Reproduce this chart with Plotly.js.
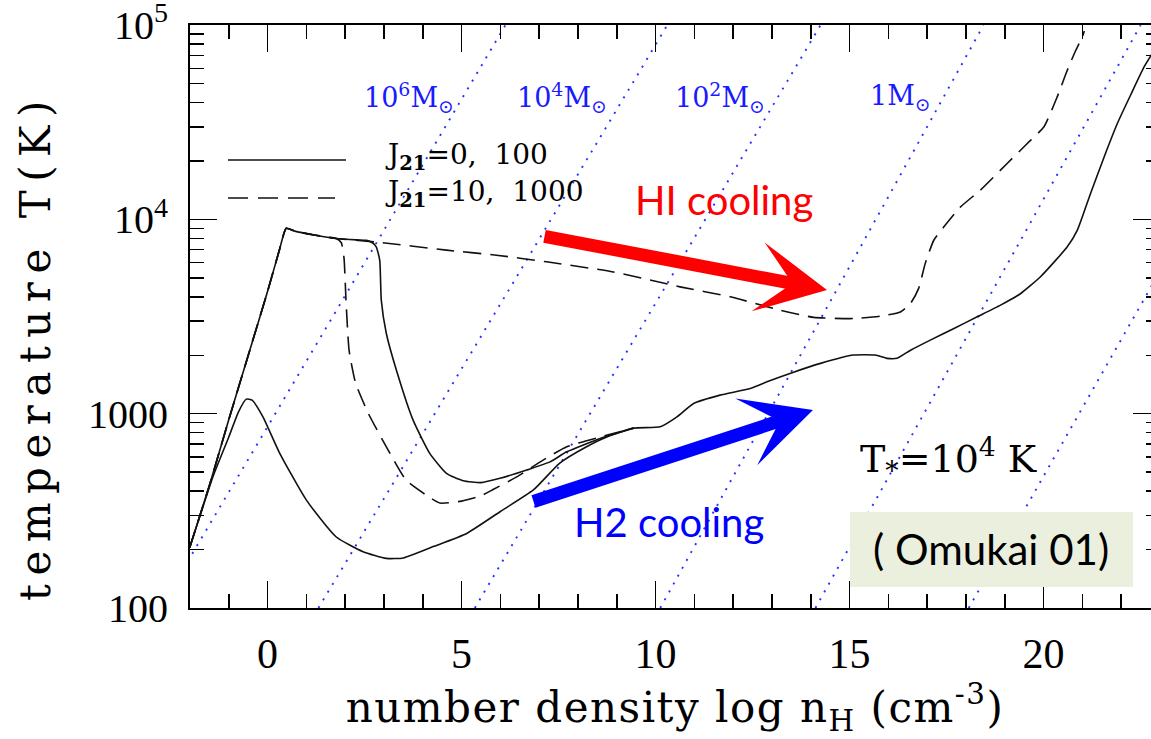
<!DOCTYPE html>
<html>
<head>
<meta charset="utf-8">
<script src="https://cdn.plot.ly/plotly-3.0.1.min.js"></script>
<style>
  html, body { margin: 0; padding: 0; overflow: hidden; background: #fff; }
  #chart { width: 1160px; height: 739px; }
</style>
</head>
<body>
<div id="chart"></div>
<script>
// ---------- data ----------
// Jeans-mass (constant M) dotted lines: x where T = 100 K and x where T = 1e5 K
const massLineX100 = [-2.77, 1.31, 5.34, 10.12, 14.12, 18.07];
const massLineX1e5 = [6.13, 10.30, 14.25, 18.45, 22.50, 26.60];
const massLineT = [100, 100000];
const massLabels = ['10<sup>6</sup>M<sub>⊙</sub>', '10<sup>4</sup>M<sub>⊙</sub>', '10<sup>2</sup>M<sub>⊙</sub>', '1M<sub>⊙</sub>'];
const massLabelX = [3.64, 7.58, 11.66, 16.30];

// J21 = 0 (solid)
const j0_x = [-2.01,-1.75,-1.4,-1.0,-0.75,-0.55,-0.4,-0.12,0.31,1.0,1.77,2.46,3.06,3.5,4.27,5.13,5.99,6.85,7.53,8.22,8.74,9.43,10.12,10.55,10.98,11.66,12.44,12.87,13.5,14.25,15.1,15.66,15.96,16.22,16.57,17.08,17.69,18.29,18.89,19.41,19.92,20.61,20.87,21.21,21.56,21.9,22.26,22.59,22.85,23.0];
const j0_T = [204,295,479,759,1023,1189,1175,964,627,359,232,195,180,181,207,242,313,405,557,676,759,843,857,964,1130,1247,1349,1459,1622,1816,2004,2004,1928,1928,2123,2393,2748,3155,3622,4159,5070,7228,8810,13614,20989,31189,44463,60954,74131,83176];

// J21 = 100 (solid)
const j100_x = [-2.01,-1.5,-1.0,-0.5,0.0,0.3,0.48,0.7,1.2,1.77,2.3,2.55,2.7,2.8,2.89,2.93,3.06,3.32,3.75,4.18,4.61,5.04,5.5,5.99,6.68,7.28,7.71,8.57,9.0,9.43];
const j100_T = [204,427,933,1995,4266,6918,9016,8710,8318,7980,7852,7816,7586,7228,6166,3846,2588,1675,927,625,493,452,442,465,513,565,637,746,794,843];

// J21 = 10 (dashed)
const j10_x = [-2.01,-1.5,-1.0,-0.5,0.0,0.3,0.48,0.7,1.2,1.77,1.9,1.97,2.02,2.1,2.27,2.6,3.06,3.57,4.09,4.44,5.0,5.47,5.81,6.42,7.1,7.71,8.57,9.43];
const j10_T = [204,427,933,1995,4266,6918,9016,8710,8318,7980,7586,6310,3846,2123,1432,1000,676,455,381,347,355,376,407,473,577,676,759,843];

// J21 = 1000 (dashed)
const j1000_x = [-2.01,-1.5,-1.0,-0.5,0.0,0.3,0.48,0.7,1.2,1.77,2.89,4.61,5.9,7.19,8.91,10.63,11.92,13.21,14.07,15.1,15.79,16.31,16.57,16.78,16.95,17.17,17.43,17.86,18.37,19.06,19.58,20.01,20.35,20.61,20.83,21.0,21.05];
const j1000_T = [204,427,933,1995,4266,6918,9016,8710,8318,7980,7621,6950,6546,6053,5370,4498,4000,3412,3133,3090,3177,3342,3698,4416,5943,7816,9162,11614,14158,19409,24604,29992,42756,58614,74302,87096,93325];

const legendLabels = ['J<sub><b>21</b></sub>=0,  100', 'J<sub><b>21</b></sub>=10,  1000'];

// ---------- traces ----------
const traces = [];
for (let i = 0; i < massLineX100.length; i++) {
  traces.push({
    x: [massLineX100[i], massLineX1e5[i]], y: massLineT,
    mode: 'lines', hoverinfo: 'skip',
    line: { color: '#2233ff', width: 1.9, dash: '2px,7px' }
  });
}
const curveLine = (dash) => ({ color: '#111', width: 1.6, dash: dash, shape: 'spline', smoothing: 0.5 });
traces.push({ x: j0_x, y: j0_T, mode: 'lines', line: curveLine('solid'), name: 'J21=0' });
traces.push({ x: j100_x, y: j100_T, mode: 'lines', line: curveLine('solid'), name: 'J21=100' });
traces.push({ x: j10_x, y: j10_T, mode: 'lines', line: curveLine('18px,9px'), name: 'J21=10' });
traces.push({ x: j1000_x, y: j1000_T, mode: 'lines', line: curveLine('18px,9px'), name: 'J21=1000' });

// ---------- helpers: pixel -> paper ----------
const PL = 190, PR = 1160, PT = 25, PB = 608;
const px = (v) => (v - PL) / (PR - PL);
const py = (v) => (PB - v) / (PB - PT);

const serif = 'DejaVu Serif';
const tickSerif = 'Liberation Serif';
const sans = 'Lato, "Open Sans", sans-serif';

const annotations = [];
massLabels.forEach((t, i) => annotations.push({
  xref: 'x', yref: 'paper', x: massLabelX[i], y: py(97), text: t, showarrow: false,
  font: { family: serif, size: 27, color: '#1a1aff' }, xanchor: 'center', yanchor: 'middle'
}));
legendLabels.forEach((t, i) => annotations.push({
  xref: 'paper', yref: 'paper', x: px(383), y: py(i === 0 ? 156 : 194), text: t, showarrow: false,
  font: { family: serif, size: 28, color: '#000' }, xanchor: 'left', yanchor: 'middle'
}));
annotations.push({
  xref: 'paper', yref: 'paper', x: px(35), y: py(347), text: 'temperature T(K)', textangle: -90,
  showarrow: false, font: { family: serif, size: 42, color: '#000' }, xanchor: 'center', yanchor: 'middle'
});
annotations.push({
  xref: 'paper', yref: 'paper', x: px(948), y: py(458), text: 'T<sub>*</sub>=10<sup>4</sup> K',
  showarrow: false, font: { family: serif, size: 38, color: '#000' }, xanchor: 'center', yanchor: 'middle'
});
annotations.push({
  xref: 'paper', yref: 'paper', x: px(724), y: py(200), text: 'HI cooling', showarrow: false,
  font: { family: sans, size: 40, color: '#ff0000' }, xanchor: 'center', yanchor: 'middle'
});
annotations.push({
  xref: 'paper', yref: 'paper', x: px(669), y: py(522), text: 'H2 cooling', showarrow: false,
  font: { family: sans, size: 40, color: '#0000ff' }, xanchor: 'center', yanchor: 'middle'
});
annotations.push({
  xref: 'paper', yref: 'paper', x: px(991), y: py(549), text: '( Omukai 01)', showarrow: false,
  font: { family: sans, size: 42, color: '#000' }, xanchor: 'center', yanchor: 'middle'
});
// arrows
annotations.push({
  xref: 'paper', yref: 'paper', x: px(827), y: py(290), ax: 543 - 827, ay: 236 - 290,
  text: '', showarrow: true, arrowhead: 3, arrowwidth: 13, arrowsize: 0.9, arrowcolor: '#ff0000'
});
annotations.push({
  xref: 'paper', yref: 'paper', x: px(813), y: py(410), ax: 532 - 813, ay: 502 - 410,
  text: '', showarrow: true, arrowhead: 3, arrowwidth: 13, arrowsize: 0.9, arrowcolor: '#0000ff'
});

const shapes = [
  { type: 'line', xref: 'paper', yref: 'paper', x0: px(228), x1: px(346), y0: py(160), y1: py(160),
    line: { color: '#111', width: 1.6 } },
  { type: 'line', xref: 'paper', yref: 'paper', x0: px(228), x1: px(335), y0: py(198), y1: py(198),
    line: { color: '#111', width: 1.6, dash: '20px,10px' } },
  { type: 'rect', xref: 'paper', yref: 'paper', x0: px(850), x1: px(1133), y0: py(587), y1: py(512),
    fillcolor: '#ebefdd', line: { width: 0 }, layer: 'above' }
];

const tickCommon = {
  ticks: 'inside', ticklen: 27, tickwidth: 1.5, tickcolor: '#000',
  showline: true, linewidth: 2, linecolor: '#000', mirror: 'ticks',
  showgrid: false, zeroline: false, ticklabeloverflow: 'allow'
};

const layout = {
  width: 1160, height: 739,
  margin: { l: PL, r: 1160 - PR, t: PT, b: 739 - PB },
  paper_bgcolor: '#fff', plot_bgcolor: '#fff',
  showlegend: false,
  font: { family: serif, color: '#000' },
  xaxis: Object.assign({}, tickCommon, {
    range: [-2, 23], tick0: 0, dtick: 5,
    tickfont: { family: tickSerif, size: 42, color: '#000' },
    ticklabelstandoff: 8,
    minor: { dtick: 1, ticks: 'inside', ticklen: 14, tickwidth: 1.5, tickcolor: '#000', showgrid: false },
    title: { text: 'number density log n<sub>H</sub> (cm<sup>-3</sup>)', font: { family: serif, size: 42, color: '#000' }, standoff: 16 }
  }),
  yaxis: Object.assign({}, tickCommon, {
    type: 'log', range: [2, 5.001], dtick: 1,
    tickfont: { family: tickSerif, size: 40, color: '#000' },
    labelalias: { '10k': '10<sup>4</sup>', '100k': '10<sup>5</sup>', '1k': '1000' },
    ticklabelstandoff: 12,
    minor: { dtick: 'D1', ticks: 'inside', ticklen: 14, tickwidth: 1.5, tickcolor: '#000', showgrid: false }
  }),
  annotations: annotations,
  shapes: shapes
};

Plotly.newPlot('chart', traces, layout, { displayModeBar: false, staticPlot: true }).then(() => {
  // widen the letter spacing of the two axis titles like the original plot font
  document.querySelectorAll('#chart .annotation-text').forEach((el) => {
    if (el.textContent === 'temperature T(K)') el.style.letterSpacing = '8.5px';
  });
  const xt = document.querySelector('#chart .xtitle');
  if (xt) xt.style.letterSpacing = '1.5px';
});
</script>
</body>
</html>
